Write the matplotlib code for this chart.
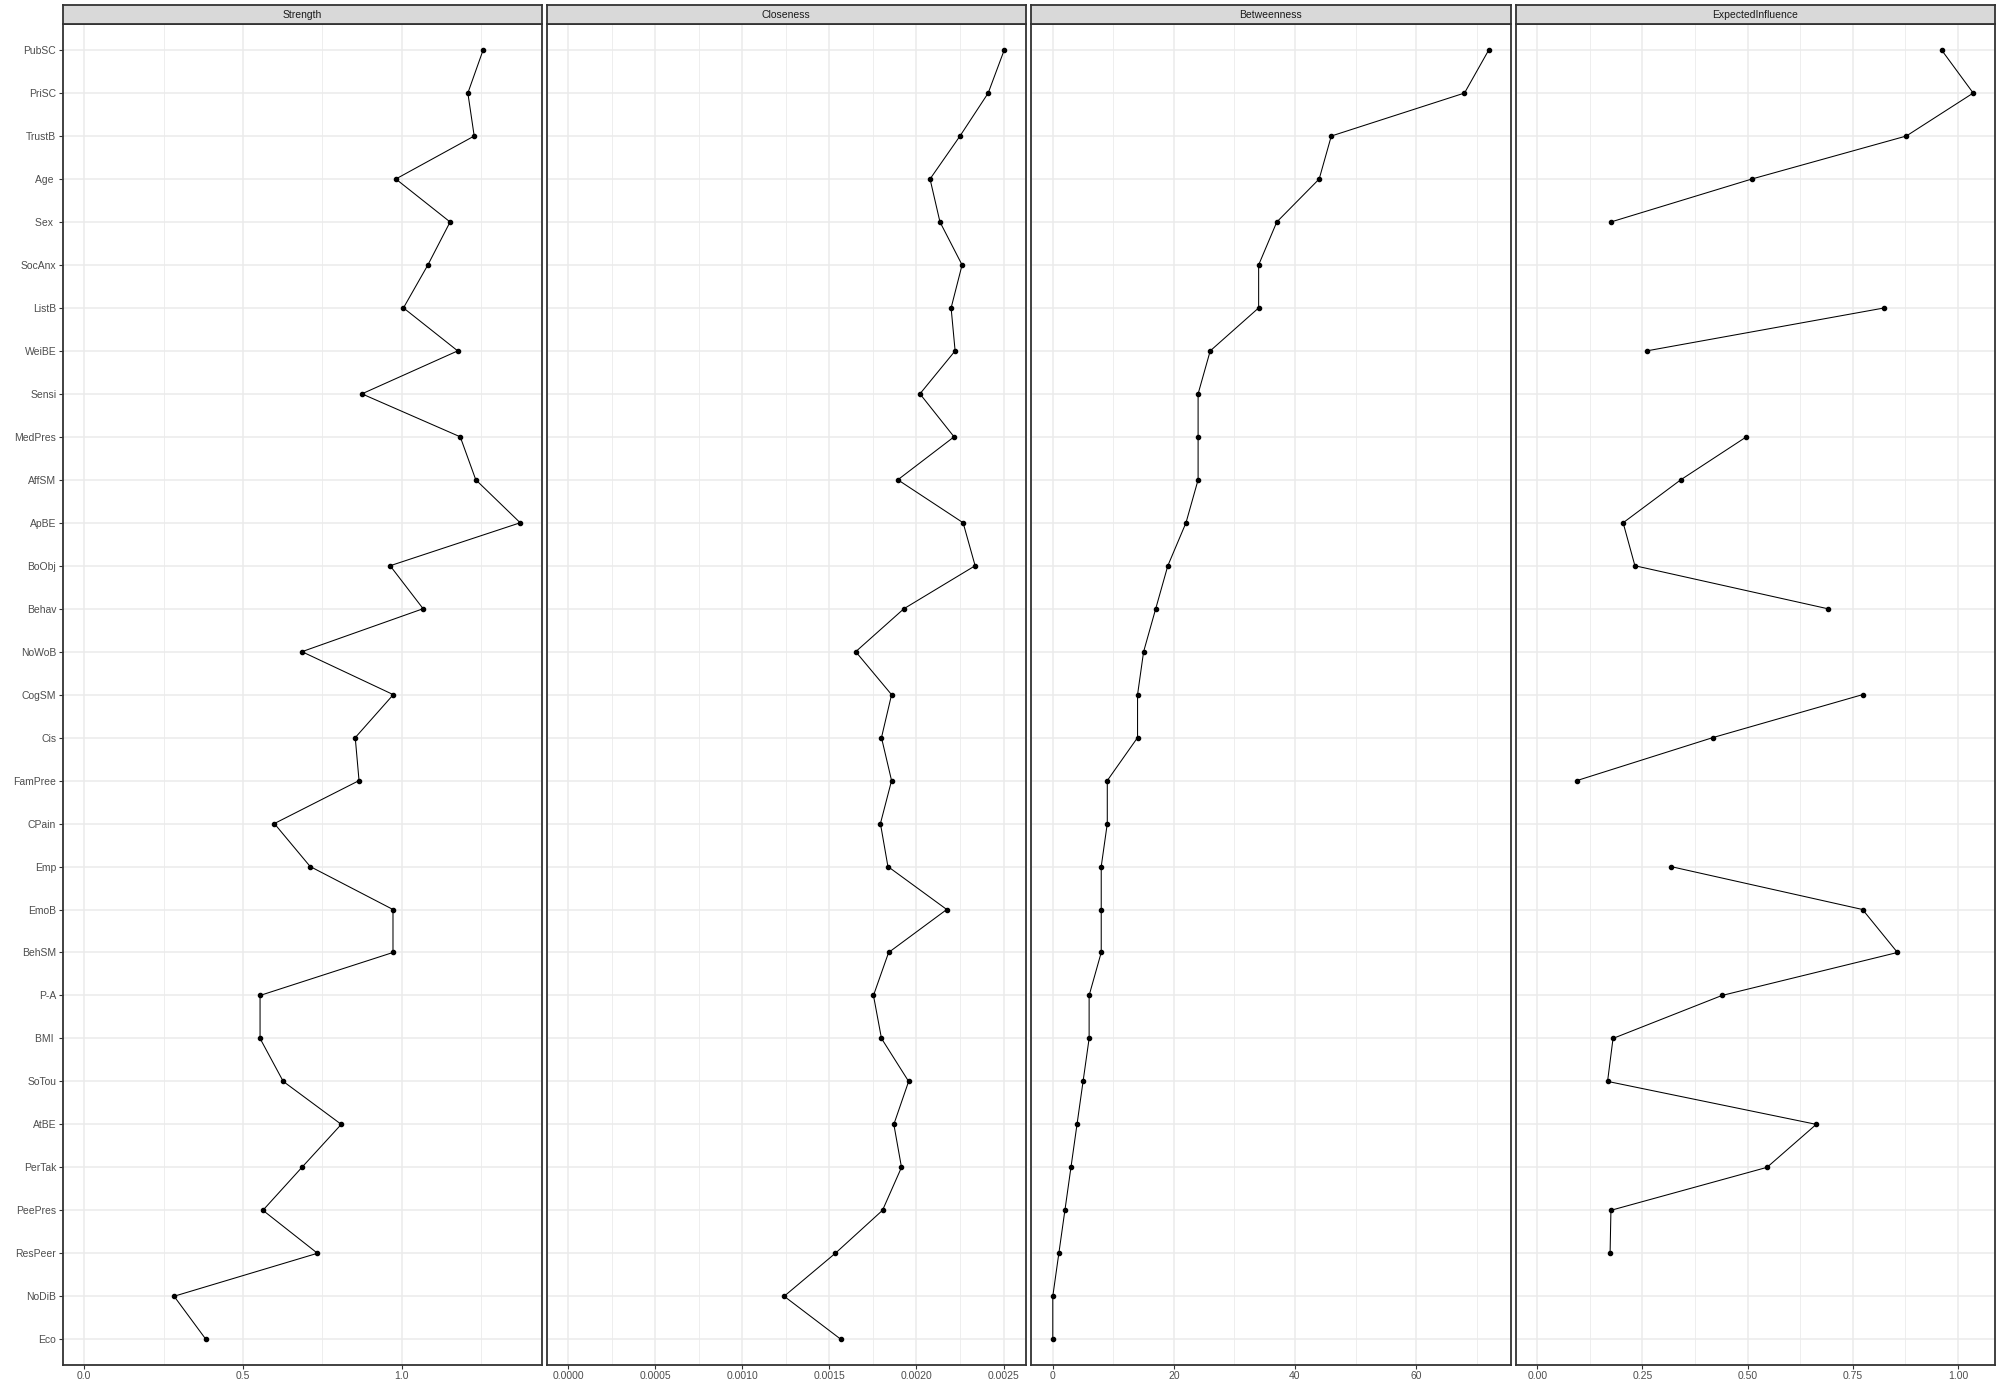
import numpy as np
import matplotlib
matplotlib.use("Agg")
import matplotlib.pyplot as plt
from matplotlib.ticker import FixedLocator

plt.rcParams['font.family'] = ['Liberation Sans', 'DejaVu Sans']

nodes = ["PubSC", "PriSC", "TrustB", "Age ", "Sex ", "SocAnx", "ListB", "WeiBE", "Sensi",
         "MedPres", "AffSM", "ApBE", "BoObj", "Behav", "NoWoB", "CogSM", "Cis", "FamPree",
         "CPain", "Emp", "EmoB", "BehSM", "P-A", "BMI ", "SoTou", "AtBE", "PerTak", "PeePres",
         "ResPeer", "NoDiB", "Eco"]

strength = [1.257, 1.209, 1.229, 0.982, 1.153, 1.083, 1.006, 1.177, 0.875,
            1.185, 1.234, 1.374, 0.964, 1.068, 0.686, 0.974, 0.854, 0.866,
            0.599, 0.712, 0.973, 0.973, 0.554, 0.554, 0.627, 0.810, 0.686, 0.563,
            0.735, 0.283, 0.383]

closeness = [0.002504, 0.002412, 0.002250, 0.002078, 0.002135, 0.002262, 0.002199, 0.002222, 0.002020,
             0.002216, 0.001893, 0.002268, 0.002337, 0.001928, 0.001651, 0.001857, 0.001799, 0.001857,
             0.001793, 0.001836, 0.002174, 0.001840, 0.001753, 0.001799, 0.001955, 0.001870, 0.001914, 0.001805,
             0.001534, 0.001240, 0.001565]

betweenness = [72, 68, 46, 44, 37, 34, 34, 26, 24,
               24, 24, 22, 19, 17, 15, 14, 14, 9,
               9, 8, 8, 8, 6, 6, 5, 4, 3, 2,
               1, 0, 0]

expected_influence = [0.961, 1.036, 0.877, 0.510, 0.175, np.nan, 0.825, 0.260, np.nan,
                      0.497, 0.341, 0.204, 0.232, 0.690, np.nan, 0.773, 0.417, 0.094,
                      np.nan, 0.317, 0.773, 0.856, 0.439, 0.180, 0.167, 0.663, 0.546, 0.175,
                      0.173, np.nan, np.nan]

measures = ["Strength", "Closeness", "Betweenness", "ExpectedInfluence"]
series = [strength, closeness, betweenness, expected_influence]

major_ticks = [[0.0, 0.5, 1.0],
               [0.0, 0.0005, 0.0010, 0.0015, 0.0020, 0.0025],
               [0, 20, 40, 60],
               [0.0, 0.25, 0.5, 0.75, 1.0]]
minor_ticks = [[0.25, 0.75, 1.25],
               [0.00025, 0.00075, 0.00125, 0.00175, 0.00225],
               [10, 30, 50, 70],
               [0.125, 0.375, 0.625, 0.875]]
tick_labels = [["0.0", "0.5", "1.0"],
               ["0.0000", "0.0005", "0.0010", "0.0015", "0.0020", "0.0025"],
               ["0", "20", "40", "60"],
               ["0.00", "0.25", "0.50", "0.75", "1.00"]]

W, H = 2000, 1400
fig = plt.figure(figsize=(20, 14), dpi=100)

lefts = [62.5, 546.5, 1031, 1515.5]
pw = 479.5
ptop, pbot = 24.3, 1365
strip_top = 5.3

n = len(nodes)
ypos = np.arange(n)[::-1]

border = "#333333"
gridc = "#EBEBEB"

for k, (name, vals) in enumerate(zip(measures, series)):
    vals = np.array(vals, dtype=float)
    ax = fig.add_axes([lefts[k] / W, 1 - pbot / H, pw / W, (pbot - ptop) / H])
    lo = min(0.0, np.nanmin(vals))
    hi = np.nanmax(vals)
    pad = (hi - lo) * 0.05
    ax.set_xlim(lo - pad, hi + pad)
    ax.set_ylim(-0.6, n - 1 + 0.6)

    ax.set_axisbelow(True)
    for m in minor_ticks[k]:
        ax.axvline(m, color=gridc, lw=0.6, zorder=0)
    for m in major_ticks[k]:
        ax.axvline(m, color=gridc, lw=1.1, zorder=0)
    for y in ypos:
        ax.axhline(y, color=gridc, lw=1.1, zorder=0)

    ax.plot(vals, ypos, color="black", lw=0.75, zorder=3)
    ax.plot(vals, ypos, "o", color="black", ms=3.0, zorder=4)

    ax.xaxis.set_major_locator(FixedLocator(major_ticks[k]))
    ax.set_xticklabels(tick_labels[k])
    ax.tick_params(axis="x", length=3, width=0.8, color=border, labelsize=7.5,
                   labelcolor="#4D4D4D", pad=1.5)
    if k == 0:
        ax.set_yticks(ypos)
        ax.set_yticklabels(nodes)
        ax.tick_params(axis="y", length=3, width=0.8, color=border, labelsize=7.5,
                       labelcolor="#4D4D4D", pad=1.5)
    else:
        ax.set_yticks([])
    for s in ax.spines.values():
        s.set_color(border)
        s.set_linewidth(1.3)

    sax = fig.add_axes([lefts[k] / W, 1 - ptop / H, pw / W, (ptop - strip_top) / H])
    sax.set_facecolor("#D9D9D9")
    sax.set_xticks([])
    sax.set_yticks([])
    for s in sax.spines.values():
        s.set_color(border)
        s.set_linewidth(1.3)
    sax.text(0.5, 0.5, name, ha="center", va="center", fontsize=7.5,
             color="#1A1A1A", transform=sax.transAxes)

fig.savefig("out.png", dpi=100, facecolor="white")
